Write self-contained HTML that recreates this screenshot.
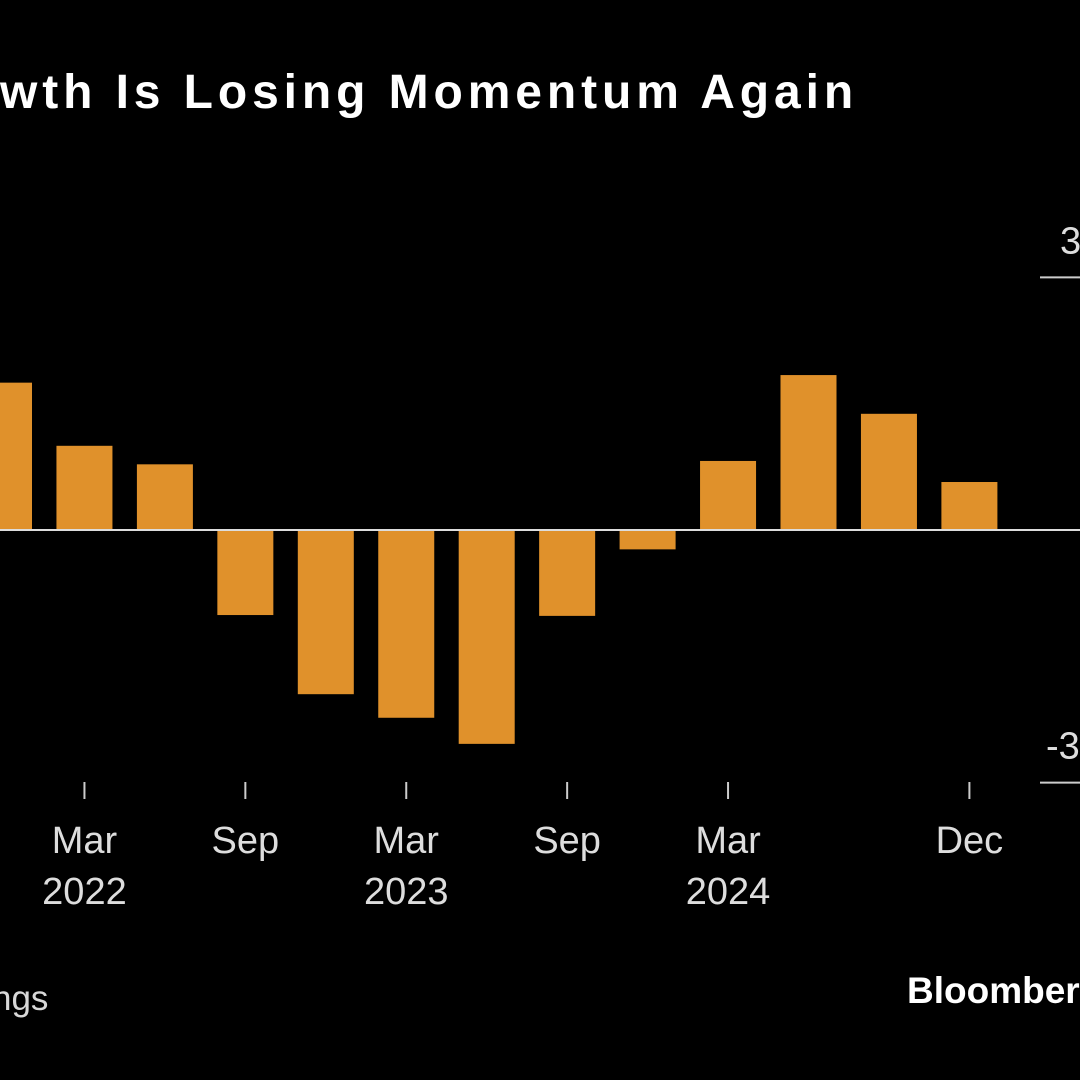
<!DOCTYPE html>
<html><head><meta charset="utf-8"><style>
html,body{margin:0;padding:0;background:#000;width:1080px;height:1080px;overflow:hidden}
svg{display:block}
text{font-family:"Liberation Sans",sans-serif}
</style></head><body>
<svg id="chart" width="1080" height="1080" viewBox="0 0 1080 1080">
<text x="0" y="108" font-size="48" font-weight="bold" fill="#fff" letter-spacing="4.9">wth Is Losing Momentum Again</text>
<text x="-8" y="1010" font-size="35" fill="#d8d8d8">ngs</text>
<text x="907" y="1003" font-size="37" font-weight="bold" fill="#fff">Bloomberg</text>
<g id="plot"></g>
</svg>
<script>
const values=[1.75,1.0,0.78,-1.01,-1.95,-2.23,-2.54,-1.02,-0.23,0.82,1.84,1.38,0.57];
const yTicks=[3,-3];
const xTickIdx=[1,3,5,7,9,12];
const xTickLabels=["Mar","Sep","Mar","Sep","Mar","Dec"];
const xTickYears=["2022","","2023","","2024",""];
const NS="http://www.w3.org/2000/svg";
const g=document.getElementById('plot');
function y(v){return 530-v*84.2;}
function xc(i){return 4+i*80.45;}
function mk(t,a){const e=document.createElementNS(NS,t);for(const k in a)e.setAttribute(k,a[k]);g.appendChild(e);return e;}
values.forEach((v,i)=>{
  const r=mk('rect',{x:xc(i)-28,y:Math.min(y(v),y(0)),width:56,height:Math.abs(y(v)-y(0)),fill:'#e0912b'});
  
  
});
const z=mk('line',{x1:0,x2:1080,y1:y(0),y2:y(0),stroke:'#ddd','stroke-width':2});


yTicks.forEach(t=>{
  const l=mk('line',{x1:1040,x2:1080,y1:y(t),y2:y(t),stroke:'#ccc','stroke-width':2});
  
  
  const tx=mk('text',{x:t<0?1046:1060,y:y(t)-24,'font-size':38,fill:'#ddd'});
  tx.textContent=String(t);
  
  
});
xTickIdx.forEach((idx,k)=>{
  const x=xc(idx);
  const l=mk('line',{x1:x,x2:x,y1:782,y2:799,stroke:'#ccc','stroke-width':2});
  
  
  const t=mk('text',{x:x,y:853,'font-size':38,fill:'#ddd','text-anchor':'middle'});
  t.textContent=xTickLabels[k];
  
  
  if(xTickYears[k]){
    const t2=mk('text',{x:x,y:904,'font-size':38,fill:'#ddd','text-anchor':'middle'});
    t2.textContent=xTickYears[k];
    
    
  }
});
</script>
</body></html>
